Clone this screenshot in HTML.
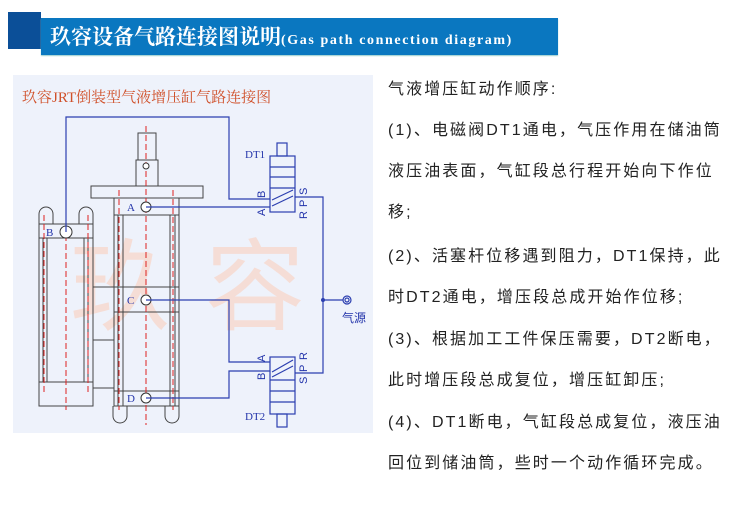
<!DOCTYPE html>
<html><head><meta charset="utf-8"><style>
body{margin:0;width:750px;height:511px;background:#fff;position:relative;overflow:hidden;font-family:"Liberation Sans","Noto Sans CJK SC",sans-serif}
.t{position:absolute;left:388px;font-size:16px;color:#222;letter-spacing:2.1px;white-space:nowrap;line-height:20px}
</style></head><body>
<div style="position:absolute;left:8px;top:12px;width:33px;height:37px;background:#0b4f98"></div>
<div style="position:absolute;left:41px;top:18px;width:517px;height:37px;background:#0a77c0;box-shadow:0 1px 1px #9cc"></div>
<div style="position:absolute;left:50px;top:23px;color:#fff;font-family:'Liberation Serif','Noto Serif CJK SC',serif;font-weight:bold;font-size:21px;white-space:nowrap;line-height:28px">玖容设备气路连接图说明<span style="font-size:14px;letter-spacing:1.6px">(Gas path connection diagram)</span></div>
<div style="position:absolute;left:13px;top:75px;width:360px;height:358px;background:#eef2fb"></div>
<div style="position:absolute;left:22px;top:86px;color:#d0502a;font-family:'Liberation Serif','Noto Serif CJK SC',serif;font-size:15px;white-space:nowrap">玖容JRT倒装型气液增压缸气路连接图</div>
<svg style="position:absolute;left:0;top:0" width="750" height="511">
<text x="70" y="322" font-size="100" fill="#f5ddd6" font-family="Noto Sans CJK SC,sans-serif">玖</text>
<text x="205" y="322" font-size="100" fill="#f5ddd6" font-family="Noto Sans CJK SC,sans-serif">容</text>
<g fill="none" stroke="#444" stroke-width="1">
<rect x="138" y="133" width="18" height="27"/>
<rect x="136" y="160" width="22" height="26"/>
<rect x="91" y="186" width="112" height="12"/>
<rect x="114" y="198" width="65" height="17"/>
<rect x="114" y="215" width="65" height="72"/>
<line x1="118" y1="215" x2="118" y2="406"/><line x1="123" y1="215" x2="123" y2="406"/>
<line x1="170" y1="215" x2="170" y2="406"/><line x1="175" y1="215" x2="175" y2="406"/>
<rect x="114" y="287" width="65" height="25"/>
<rect x="114" y="312" width="65" height="79"/>
<rect x="114" y="391" width="65" height="15"/>
<path d="M113 406 v10 a7 7 0 0 0 14 0 v-10 M165 406 v10 a7 7 0 0 0 14 0 v-10"/>
<rect x="39" y="224" width="54" height="14"/>
<rect x="39" y="238" width="54" height="144"/>
<line x1="43" y1="238" x2="43" y2="382"/><line x1="47" y1="238" x2="47" y2="382"/>
<line x1="84" y1="238" x2="84" y2="382"/><line x1="88" y1="238" x2="88" y2="382"/>
<rect x="39" y="382" width="54" height="24"/>
<path d="M39 224 v-10 a7 7 0 0 1 14 0 v10 M79 224 v-10 a7 7 0 0 1 14 0 v10"/>
<rect x="93" y="287" width="21" height="101"/>
<line x1="93" y1="340" x2="114" y2="340"/>
</g>
<g stroke="#d22" stroke-width="1" stroke-dasharray="6,3" fill="none">
<line x1="146" y1="126" x2="146" y2="425"/>
<line x1="66" y1="208" x2="66" y2="410"/>
<line x1="119" y1="190" x2="119" y2="410"/><line x1="173" y1="190" x2="173" y2="410"/>
<line x1="44" y1="215" x2="44" y2="395"/><line x1="88" y1="215" x2="88" y2="395"/>
</g>
<g fill="#fff" stroke="#333"><circle cx="146" cy="207" r="5"/><circle cx="146" cy="300" r="5"/><circle cx="146" cy="398" r="5"/><circle cx="66" cy="232" r="6"/><circle cx="146" cy="166" r="3"/></g>
<g fill="#2233aa" font-family="Liberation Serif,serif" font-size="11">
<text x="127" y="211">A</text><text x="127" y="304">C</text><text x="127" y="402">D</text><text x="46" y="236">B</text>
<text x="245" y="158">DT1</text><text x="245" y="420">DT2</text>
</g>
<g fill="none" stroke="#2c3fb0" stroke-width="1.2">
<polyline points="66,232 66,117 229,117 229,199 270,199"/>
<line x1="146" y1="207" x2="270" y2="207"/>
<polyline points="146,300 229,300 229,362 270,362"/>
<polyline points="146,398 229,398 229,371 270,371"/>
<polyline points="295,197 323,197 323,373 295,373"/>
<line x1="323" y1="300" x2="343" y2="300"/>
<circle cx="347" cy="300" r="4"/><circle cx="347" cy="300" r="2"/>
<rect x="270" y="156" width="25" height="56"/>
<line x1="270" y1="167" x2="295" y2="167"/><line x1="270" y1="177" x2="295" y2="177"/><line x1="270" y1="188" x2="295" y2="188"/>
<line x1="272" y1="206" x2="293" y2="196"/><line x1="272" y1="200" x2="293" y2="190"/>
<rect x="277" y="143" width="10" height="13"/>
<rect x="270" y="357" width="25" height="57"/>
<line x1="270" y1="380" x2="295" y2="380"/><line x1="270" y1="391" x2="295" y2="391"/><line x1="270" y1="402" x2="295" y2="402"/>
<line x1="272" y1="372" x2="293" y2="360"/><line x1="272" y1="377" x2="293" y2="366"/>
<rect x="277" y="414" width="10" height="13"/>
</g>
<circle cx="323" cy="300" r="2" fill="#2c3fb0"/>
<g fill="#2233aa" font-family="Liberation Sans,sans-serif" font-size="11">
<text transform="translate(265,198) rotate(-90)">B</text><text transform="translate(265,216) rotate(-90)">A</text>
<text transform="translate(307,195) rotate(-90)">S</text><text transform="translate(307,207) rotate(-90)">P</text><text transform="translate(307,219) rotate(-90)">R</text>
<text transform="translate(265,362) rotate(-90)">A</text><text transform="translate(265,380) rotate(-90)">B</text>
<text transform="translate(307,360) rotate(-90)">R</text><text transform="translate(307,372) rotate(-90)">P</text><text transform="translate(307,384) rotate(-90)">S</text>
</g>
<text x="342" y="322" font-size="12" fill="#2233aa" font-family="Noto Sans CJK SC,sans-serif">气源</text>
</svg>
<div class="t" style="top:80px">气液增压缸动作顺序:</div>
<div class="t" style="top:121px">(1)、电磁阀DT1通电，气压作用在储油筒</div>
<div class="t" style="top:162px">液压油表面，气缸段总行程开始向下作位</div>
<div class="t" style="top:203px">移;</div>
<div class="t" style="top:247px">(2)、活塞杆位移遇到阻力，DT1保持，此</div>
<div class="t" style="top:288px">时DT2通电，增压段总成开始作位移;</div>
<div class="t" style="top:330px">(3)、根据加工工件保压需要，DT2断电，</div>
<div class="t" style="top:371px">此时增压段总成复位，增压缸卸压;</div>
<div class="t" style="top:413px">(4)、DT1断电，气缸段总成复位，液压油</div>
<div class="t" style="top:454px">回位到储油筒，些时一个动作循环完成。</div>
</body></html>
